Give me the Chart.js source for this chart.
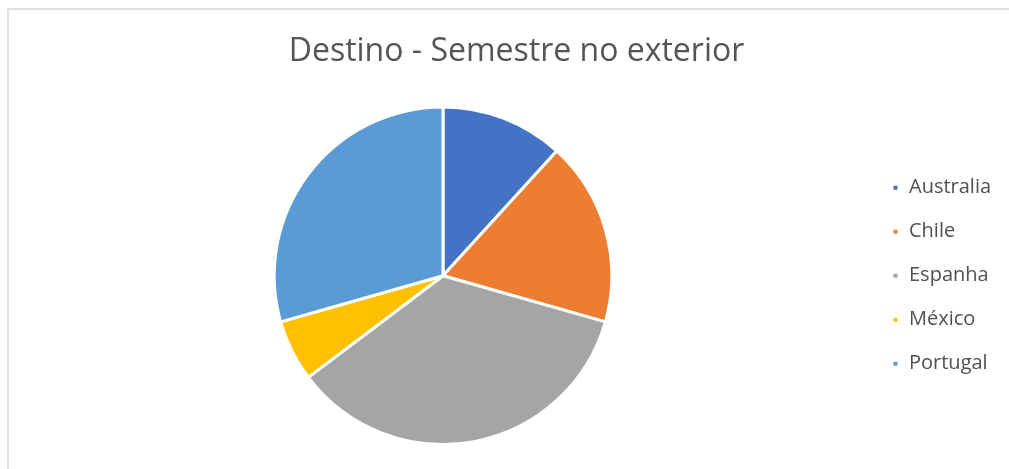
<!doctype html>
<html lang="pt">

<head>
  <meta charset="utf-8">
  <title>Destino - Semestre no exterior</title>
  <script src="https://cdn.jsdelivr.net/npm/chart.js"></script>
  <style>
    body { margin: 0; background: #fff; overflow: hidden; }
    .moldura {
      position: absolute; left: 7px; top: 8px; width: 1100px; height: 600px;
      border: 2px solid #e0e0e0; box-sizing: border-box;
    }
    #grafico { position: absolute; left: 0; top: 0; }
  </style>
</head>

<body>
  <div class="moldura"></div>
  <canvas id="grafico" width="1015" height="469"></canvas>

  <script>
    // Dados
    const destinos = ["Australia", "Chile", "Espanha", "México", "Portugal"];
    const alunos = [2, 3, 6, 1, 5];
    const cores = ["#4472C4", "#ED7D31", "#A5A5A5", "#FFC000", "#5B9BD5"];

    // alarga a caixa da legenda para o gráfico ficar mais à esquerda
    const larguraLegenda = {
      id: 'larguraLegenda',
      beforeLayout(chart) {
        const legenda = chart.legend;
        if (!legenda || legenda._alargada) return;
        const fitOriginal = legenda.fit.bind(legenda);
        legenda.fit = function () {
          fitOriginal();
          this.width = 147;
        };
        legenda._alargada = true;
      }
    };

    const config = {
      type: 'pie',
      data: {
        labels: destinos,
        datasets: [{
          data: alunos,
          backgroundColor: cores,
          borderColor: '#ffffff',
          borderWidth: 3,
          hoverOffset: 0
        }]
      },
      options: {
        responsive: false,
        animation: false,
        layout: { padding: { top: 0, bottom: 23, left: 18, right: 0 } },
        plugins: {
          title: {
            display: true,
            text: 'Destino - Semestre no exterior',
            color: '#555555',
            font: { family: 'Open Sans', size: 32, weight: 'normal', lineHeight: 1.2 },
            padding: { top: 33, bottom: 34 }
          },
          legend: {
            position: 'right',
            fullSize: false,
            labels: {
              color: '#505050',
              boxWidth: 7,
              boxHeight: 7,
              padding: 24,
              font: { family: 'Open Sans', size: 20 }
            }
          },
          tooltip: { enabled: false }
        }
      },
      plugins: [larguraLegenda]
    };

    new Chart(document.getElementById('grafico'), config);
  </script>
</body>

</html>
